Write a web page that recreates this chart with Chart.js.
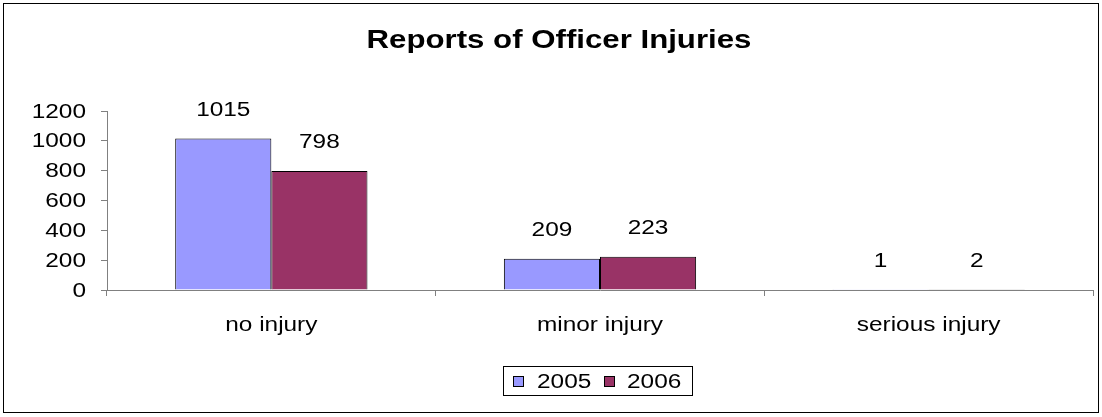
<!DOCTYPE html>
<html>
<head>
<meta charset="utf-8">
<script src="https://cdn.jsdelivr.net/npm/chart.js@4"></script>
<style>
  html, body { margin: 0; padding: 0; background: #fff; }
  #wrap { width: 1102px; height: 417px; }
</style>
</head>
<body>
<div id="wrap"><canvas id="chart" width="1102" height="417"></canvas></div>
<script>
const categories = ["no injury", "minor injury", "serious injury"];
const years = ["2005", "2006"];
const values2005 = [1015, 209, 1];
const values2006 = [798, 223, 2];
const yTicks = [0, 200, 400, 600, 800, 1000, 1200];

const FONT = "'Liberation Sans', Arial, sans-serif";
const TEXT_FONT = "20px " + FONT;
const STRETCH = 1.22; // the reference text is a little wider than plain Arial

function wideText(ctx, text, x, y, align, font, sx) {
  ctx.save();
  ctx.font = font;
  ctx.textAlign = align;
  ctx.textBaseline = "middle";
  ctx.fillStyle = "#000";
  ctx.translate(x, y);
  ctx.scale(sx, 1);
  ctx.fillText(text, 0, 0);
  ctx.restore();
}

// frame, title, tick labels, value labels, legend box
const decorations = {
  id: "decorations",
  afterDraw(chart) {
    const ctx = chart.ctx;
    const xs = chart.scales.x, ys = chart.scales.y;
    ctx.save();
    ctx.strokeStyle = "#000";
    ctx.lineWidth = 1;
    ctx.strokeRect(3.5, 3.5, 1095, 409);

    wideText(ctx, "Reports of Officer Injuries", 559, 41, "center", "bold 26px " + FONT, 1.2);

    yTicks.forEach(v => {
      wideText(ctx, String(v), 86, ys.getPixelForValue(v) + 1, "right", TEXT_FONT, STRETCH);
    });
    categories.forEach((c, i) => {
      wideText(ctx, c, xs.getPixelForValue(i), 325, "center", TEXT_FONT, STRETCH);
    });

    chart.data.datasets.forEach((ds, i) => {
      chart.getDatasetMeta(i).data.forEach((bar, j) => {
        wideText(ctx, String(ds.data[j]), bar.x, bar.y - 28, "center", TEXT_FONT, STRETCH);
      });
    });

    // legend
    ctx.strokeStyle = "#000";
    ctx.strokeRect(503.5, 366.5, 189, 29);
    const items = [[513, 537], [604, 627]];
    chart.data.datasets.forEach((ds, i) => {
      const [sx, tx] = items[i];
      ctx.fillStyle = ds.backgroundColor;
      ctx.fillRect(sx, 376, 10, 10);
      ctx.strokeRect(sx + 0.5, 376.5, 10, 10);
      wideText(ctx, ds.label, tx, 382, "left", TEXT_FONT, STRETCH);
    });
    ctx.restore();
  }
};

new Chart(document.getElementById("chart"), {
  type: "bar",
  data: {
    labels: categories,
    datasets: [
      { label: years[0], data: values2005, backgroundColor: "#9999FF", borderColor: "#000", borderWidth: 1 },
      { label: years[1], data: values2006, backgroundColor: "#993366", borderColor: "#000", borderWidth: 1 }
    ]
  },
  options: {
    responsive: false,
    animation: false,
    layout: { padding: { left: 0, right: 9, top: 111, bottom: 77 } },
    datasets: { bar: { categoryPercentage: 0.585, barPercentage: 1 } },
    plugins: { legend: { display: false }, tooltip: { enabled: false } },
    scales: {
      x: {
        afterFit(scale) { scale.height = 50; },
        grid: { drawOnChartArea: false, offset: true, tickLength: 6, color: "#808080" },
        border: { color: "#808080" },
        ticks: { display: false }
      },
      y: {
        min: 0,
        max: 1200,
        afterFit(scale) { scale.width = 107; },
        afterBuildTicks(scale) { scale.ticks = yTicks.map(v => ({ value: v })); },
        grid: { drawOnChartArea: false, tickLength: 6, color: "#808080" },
        border: { color: "#808080" },
        ticks: { display: false }
      }
    }
  },
  plugins: [decorations]
});
</script>
</body>
</html>
